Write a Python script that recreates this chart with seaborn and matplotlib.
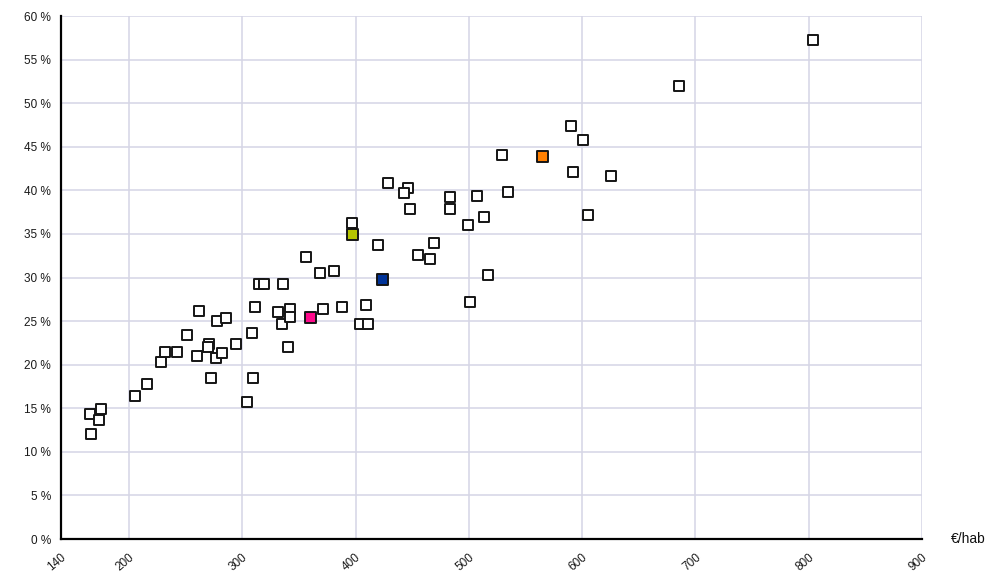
import matplotlib
matplotlib.use("Agg")
import matplotlib.pyplot as plt
import seaborn as sns
import pandas as pd
from matplotlib.ticker import FuncFormatter

# Spending per inhabitant (€/hab) and share (%)
x_vals = [165.6, 175.3, 173.8, 166.2, 205.3, 216.0, 228.3, 231.8, 242.7, 251.5,
          262.0, 260.0, 270.6, 269.5, 276.8, 281.8, 278.0, 285.4, 272.2, 294.2,
          308.3, 309.7, 304.5, 311.0, 315.0, 319.4, 336.2, 331.8, 342.1, 334.8,
          342.5, 340.1, 356.3, 368.6, 380.6, 371.5, 387.8, 409.2, 404.0, 411.3,
          397.1, 419.5, 428.9, 446.6, 442.8, 448.0, 455.4, 465.7, 469.2, 483.4,
          483.4, 506.9, 534.8, 513.6, 499.5, 517.2, 501.0, 529.5, 589.9, 600.5,
          591.6, 625.2, 605.5, 685.8, 804.0]
y_vals = [14.3, 14.9, 13.7, 12.0, 16.4, 17.8, 20.3, 21.5, 21.5, 23.4,
          26.2, 21.0, 22.4, 22.0, 20.8, 21.3, 25.0, 25.4, 18.5, 22.4,
          23.6, 18.5, 15.75, 26.6, 29.3, 29.3, 29.3, 26.0, 26.4, 24.7,
          25.5, 22.0, 32.4, 30.5, 30.7, 26.4, 26.6, 26.8, 24.7, 24.7,
          36.3, 33.7, 40.9, 40.3, 39.7, 37.9, 32.6, 32.1, 34.0, 39.2,
          37.9, 39.3, 39.8, 37.0, 36.0, 30.3, 27.2, 44.1, 47.4, 45.8,
          42.1, 41.6, 37.2, 52.0, 57.2]

# Highlighted points
hl_names = ["A", "B", "C", "D"]
hl_x = [397.1, 423.6, 360.5, 564.8]
hl_y = [34.9, 29.8, 25.4, 43.9]
hl_colors = ["#b5c400", "#003399", "#ff0a8c", "#ff7f00"]

x_ticks = [140, 200, 300, 400, 500, 600, 700, 800, 900]
y_ticks = list(range(0, 61, 5))

sns.set_style("white")
plt.rcParams['font.family'] = ['Liberation Sans', 'DejaVu Sans']

fig = plt.figure(figsize=(10.01, 5.85), dpi=100)
ax = fig.add_axes([0.0609, 0.0786, 0.8602, 0.894])

df = pd.DataFrame({"x": x_vals, "y": y_vals})
sns.scatterplot(data=df, x="x", y="y", marker="s", s=60, color="white",
                edgecolor="#151515", linewidth=1.4, ax=ax, zorder=3)

dh = pd.DataFrame({"x": hl_x, "y": hl_y, "g": hl_names})
sns.scatterplot(data=dh, x="x", y="y", hue="g", palette=dict(zip(hl_names, hl_colors)),
                marker="s", s=60, edgecolor="#151515", linewidth=1.4, ax=ax,
                legend=False, zorder=4)

ax.set_xlim(140, 900)
ax.set_ylim(0, 60)
ax.set_xticks(x_ticks)
ax.set_yticks(y_ticks)
ax.yaxis.set_major_formatter(FuncFormatter(lambda v, p: f"{int(v)} %"))
ax.set_xlabel("")
ax.set_ylabel("")

ax.grid(True, color="#d5d5e5", linewidth=1.1)
ax.set_axisbelow(True)
for s in ["top", "right"]:
    ax.spines[s].set_visible(False)
for s in ["left", "bottom"]:
    ax.spines[s].set_color("black")
    ax.spines[s].set_linewidth(1.6)

ax.tick_params(axis="both", which="major", length=4, width=1.3, color="black",
               direction="out", labelsize=8.5, labelcolor="#1a1a1a")
ax.tick_params(axis="y", pad=3)
ax.tick_params(axis="x", pad=5)
plt.setp(ax.get_xticklabels(), rotation=40, ha="right", va="top", rotation_mode="anchor")

fig.text(0.950, 0.0786, "€/hab", fontsize=10, ha="left", va="center", color="#111111")

fig.savefig("out.png", dpi=100)
